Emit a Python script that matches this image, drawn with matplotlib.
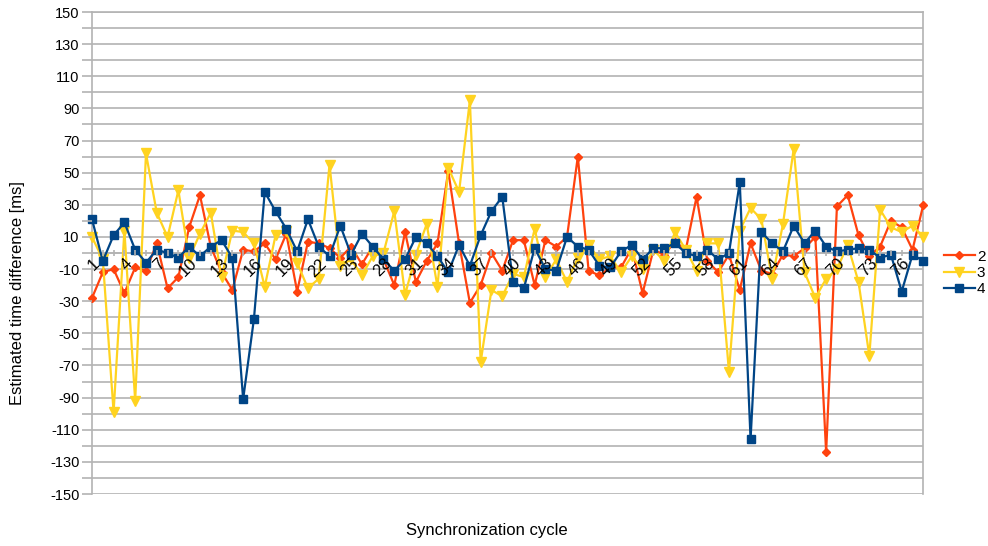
import matplotlib
matplotlib.use("Agg")
import matplotlib.pyplot as plt
import numpy as np

plt.rcParams['font.family'] = ['Liberation Sans', 'DejaVu Sans']

cycles = list(range(1, 79))
series_names = ["2", "3", "4"]

s2 = [-28, -12, -10, -25, -9, -11, 6, -22, -15, 16,
      36, 4, -12, -23, 2, 1, 6, -4, 12, -24,
      7, 6, 3, -3, 4, -7, 4, -4, -20, 13,
      -18, -5, 6, 51, 6, -31, -20, 0, -11, 8,
      8, -20, 8, 4, 10, 60, -11, -14, -9, -9,
      3, -25, 2, -1, 7, 2, 35, -5, -12, -1,
      -23, 6, -11, -13, -1, -2, 3, 10, -124, 29,
      36, 11, -2, 4, 20, 16, 2, 30]

s3 = [10, -4, -99, 14, -92, 62, 25, 10, 39, -3,
      12, 25, -15, 14, 13, 6, -21, 11, 14, -6,
      -22, -16, 55, -8, -4, -14, -2, 0, 26, -26,
      -1, 18, -21, 53, 38, 95, -68, -23, -27, -13,
      -15, 15, -15, -4, -18, -3, 5, -4, -2, -12,
      -2, -10, 2, -5, 13, 2, -11, 6, 6, -74,
      14, 28, 21, -16, 18, 65, -12, -28, -16, -10,
      5, -18, -64, 27, 16, 13, 17, 10]

s4 = [21, -5, 11, 19, 2, -6, 2, 0, -3, 4,
      -2, 4, 8, -3, -91, -41, 38, 26, 15, 1,
      21, 4, -2, 17, -1, 12, 4, -4, -11, -4,
      10, 6, -2, -12, 5, -8, 11, 26, 35, -18,
      -22, 3, -10, -11, 10, 4, 2, -8, -9, 1,
      5, -4, 3, 3, 6, 0, -2, 2, -4, 0,
      44, -116, 13, 6, 1, 17, 6, 14, 4, 1,
      2, 3, 2, -3, -1, -24, -1, -5]

xtick_labels = [str(c) if (c - 1) % 3 == 0 else '' for c in cycles]
ytick_values = list(range(-150, 151, 20))
grid_values = list(range(-150, 151, 10))

fig = plt.figure(figsize=(9.88, 5.46), dpi=100)
ax = fig.add_axes([92/988, 1 - 494/546, (923.3 - 92)/988, (494 - 12)/546])

grid_c = '#b3b3b3'
for sp in ['left', 'right', 'top']:
    ax.spines[sp].set_color(grid_c)
    ax.spines[sp].set_linewidth(1.2)
    ax.spines[sp].set_zorder(0.6)
ax.spines['bottom'].set_position(('data', 0))
ax.spines['bottom'].set_color(grid_c)
ax.spines['bottom'].set_linewidth(1.2)
ax.spines['bottom'].set_zorder(0.6)
ax.set_axisbelow(False)

ax.hlines(grid_values, cycles[0], cycles[-1], colors=grid_c, lw=1.2, zorder=0.5)

ax.plot(cycles, s2, color='#FF420E', lw=1.6, marker='D', ms=4.2, label=series_names[0],
        zorder=2.0, clip_on=False)
ax.plot(cycles, s3, color='#FFD320', lw=1.6, marker='v', ms=7.5, label=series_names[1],
        zorder=2.0, clip_on=False)
ax.plot(cycles, s4, color='#004586', lw=1.6, marker='s', ms=5.5, label=series_names[2],
        zorder=2.1, clip_on=False)

ax.set_xlim(1, 78)
ax.set_ylim(-150, 150)

ax.set_yticks(ytick_values)
ax.set_yticklabels([str(v) for v in ytick_values], fontsize=10.5)
ax.set_yticks(grid_values, minor=True)
ax.grid(False)
ax.tick_params(axis='y', which='both', length=7, color=grid_c, width=1.2, pad=2, labelcolor='#000000')

ax.set_xticks(cycles)
ax.set_xticklabels(xtick_labels, fontsize=12)
ax.tick_params(axis='x', which='major', length=4, direction='inout', color=grid_c, width=1.2, pad=0)
for lab in ax.get_xticklabels():
    lab.set_rotation(45)
    lab.set_rotation_mode('anchor')
    lab.set_horizontalalignment('right')
    lab.set_verticalalignment('top')

fig.text(18/988, 253/546, 'Estimated time difference [ms]', rotation=90,
         ha='center', va='center', fontsize=12)
fig.text(487/988, 1 - 531/546, 'Synchronization cycle', ha='center', va='center', fontsize=12)

leg = ax.legend(loc='center left', bbox_to_anchor=(944/988, 273/546),
                bbox_transform=fig.transFigure, frameon=False, fontsize=11,
                handlelength=2.0, handletextpad=0.15, labelspacing=0.15,
                borderpad=0, borderaxespad=0)

fig.savefig('out.png', dpi=100)
